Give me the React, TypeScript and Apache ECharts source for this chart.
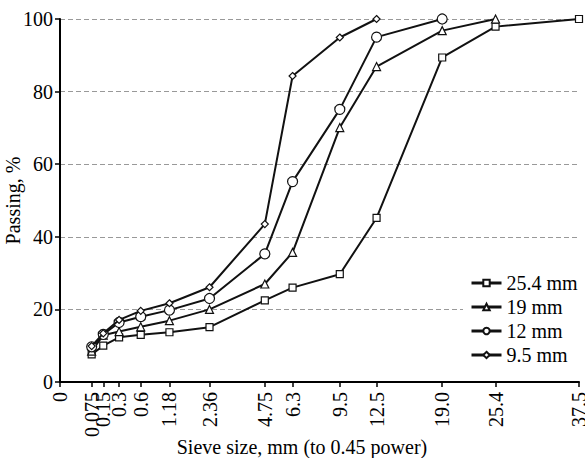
import React, { useEffect, useRef } from "react";
import * as echarts from "echarts";

const sieveLabels = ["0", "0.075", "0.15", "0.3", "0.6", "1.18", "2.36", "4.75", "6.3", "9.5", "12.5", "19.0", "25.4", "37.5"];
const sieveSizes = [0.075, 0.15, 0.3, 0.6, 1.18, 2.36, 4.75, 6.3, 9.5, 12.5, 19.0, 25.4, 37.5];
const passing254 = [7.6, 10.0, 12.3, 13.0, 13.7, 15.1, 22.5, 26.0, 29.7, 45.2, 89.4, 97.9, 100];
const passing19 = [8.5, 12.9, 13.9, 15.2, 16.9, 20.0, 27.0, 35.7, 70.1, 86.9, 96.8, 100];
const passing12 = [9.7, 13.1, 16.4, 18.0, 19.8, 23.0, 35.3, 55.2, 75.1, 95.0, 100];
const passing95 = [9.9, 13.4, 17.1, 19.6, 21.7, 26.1, 43.5, 84.3, 94.9, 100];

const seriesNames = ["25.4 mm", "19 mm", "12 mm", "9.5 mm"];
const seriesValues = [passing254, passing19, passing12, passing95];
const seriesSymbols = ["rect", "triangle", "circle", "diamond"];
const seriesSymbolSizes = [7, 8, 10, 7];

const POWER = 0.45;
const toPos = (s: number) => Math.pow(s, POWER);
const FONT = "Liberation Serif";
const FS = 20;

export default function App() {
  const ref = useRef<HTMLDivElement>(null);
  useEffect(() => {
    if (!ref.current) return;
    const chart = echarts.init(ref.current, undefined, { renderer: "svg" });
    const tickPositions = sieveLabels.map((l) => toPos(parseFloat(l)));
    const option: any = {
      animation: false,
      backgroundColor: "#fff",
      textStyle: { fontFamily: FONT, color: "#000" },
      grid: { left: 60, right: 6, top: 19, bottom: 76, containLabel: false, outerBoundsMode: "none" },
      legend: {
        orient: "vertical",
        left: 463,
        top: 271,
        padding: [2, 5, 2, 7],
        backgroundColor: "#fff",
        itemWidth: 30,
        itemHeight: 8,
        itemGap: 4,
        lineStyle: { width: 3 },
        data: seriesNames,
        textStyle: { fontFamily: FONT, fontSize: FS, color: "#000" },
      },
      xAxis: {
        type: "value",
        min: 0,
        max: toPos(37.5),
        name: "Sieve size, mm (to 0.45 power)",
        nameLocation: "middle",
        nameGap: 55,
        nameMoveOverlap: false,
        nameTextStyle: { fontFamily: FONT, fontSize: FS, color: "#000", padding: [0, 35, 0, 0] },
        axisLine: { show: true, onZero: false, lineStyle: { color: "#000", width: 2 } },
        axisTick: { show: true, length: 5, customValues: tickPositions, lineStyle: { color: "#000", width: 1.5 } },
        axisLabel: {
          customValues: tickPositions,
          rotate: 90,
          margin: 10,
          fontFamily: FONT,
          fontSize: FS,
          color: "#000",
          formatter: (v: number) => {
            const i = tickPositions.findIndex((p) => Math.abs(p - v) < 1e-6);
            return i >= 0 ? sieveLabels[i] : "";
          },
        },
        splitLine: { show: false },
      },
      yAxis: {
        type: "value",
        min: 0,
        max: 100,
        interval: 20,
        name: "Passing, %",
        nameLocation: "middle",
        nameGap: 37,
        nameMoveOverlap: false,
        nameTextStyle: { fontFamily: FONT, fontSize: FS, color: "#000" },
        axisLine: { show: true, lineStyle: { color: "#000", width: 2 } },
        axisTick: { show: true, length: 5, lineStyle: { color: "#000", width: 1.5 } },
        axisLabel: { margin: 7, fontFamily: FONT, fontSize: FS, color: "#000" },
        splitLine: { show: true, lineStyle: { color: "#999", type: [5, 3], width: 1 } },
      },
      series: seriesNames.map((name, k) => ({
        name,
        type: "line",
        symbol: seriesSymbols[k],
        symbolSize: seriesSymbolSizes[k],
        showAllSymbol: true,
        lineStyle: { color: "#111", width: 2 },
        itemStyle: { color: "#fff", borderColor: "#111", borderWidth: 1.2 },
        data: seriesValues[k].map((v, i) => [toPos(sieveSizes[i]), v]),
        z: 2 + k,
      })),
    };
    chart.setOption(option);
    return () => chart.dispose();
  }, []);
  return <div ref={ref} style={{ position: "absolute", left: 0, top: 0, width: 585, height: 458 }} />;
}
